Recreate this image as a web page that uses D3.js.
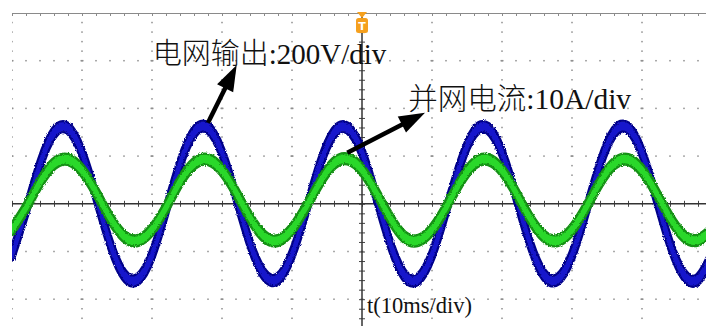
<!DOCTYPE html>
<html>
<head>
<meta charset="utf-8">
<script src="https://cdn.jsdelivr.net/npm/d3@7/dist/d3.min.js"></script>
<style>
  body { margin: 0; background: #fff; }
  text { font-family: "Liberation Serif", "Noto Sans CJK SC", serif; }
</style>
</head>
<body>
<div id="chart"></div>
<script>
// scope screen: 10 div across, 8 div tall (bottom part cropped off)
// samples every 0.2 div, values
const sampleStep = 0.2;

const gridVoltage = [
  -1.07, -0.15, 0.83, 1.49, 1.58, 1.07, 0.15, -0.83, -1.49, -1.58,
  -1.07, -0.14, 0.84, 1.50, 1.59, 1.07, 0.15, -0.83, -1.48, -1.57,
  -1.06, -0.15, 0.83, 1.49, 1.58, 1.08, 0.16, -0.82, -1.49, -1.58,
  -1.07, -0.15, 0.82, 1.49, 1.58, 1.07, 0.15, -0.83, -1.49, -1.58,
  -1.08, -0.16, 0.83, 1.50, 1.59, 1.07, 0.14, -0.84, -1.49, -1.58,
  -1.07
];

const gridCurrent = [
  -0.54, -0.08, 0.45, 0.84, 0.93, 0.70, 0.24, -0.29, -0.68, -0.77,
  -0.54, -0.08, 0.46, 0.84, 0.93, 0.70, 0.24, -0.29, -0.68, -0.77,
  -0.53, -0.07, 0.45, 0.85, 0.94, 0.71, 0.24, -0.29, -0.69, -0.77,
  -0.54, -0.08, 0.45, 0.84, 0.93, 0.70, 0.23, -0.30, -0.68, -0.77,
  -0.54, -0.08, 0.45, 0.84, 0.93, 0.70, 0.24, -0.29, -0.68, -0.76,
  -0.54
];

// annotation anchors, in divisions
const labels = [
  { text: "电网输出:200V/div", x: 2.01, y: 2.94, size: 29 },
  { text: "并网电流:10A/div", x: 5.66, y: 1.99, size: 29.5 },
  { text: "t(10ms/div)", x: 5.07, y: -2.29, size: 22.5 }
];
const arrows = [
  { from: [2.80, 1.70], to: [3.21, 2.91] },
  { from: [4.79, 1.07], to: [5.90, 1.91] }
];

const W = 706, H = 326;
const x = d3.scaleLinear().domain([0, 10]).range([12, 712]);
const y = d3.scaleLinear().domain([-4, 4]).range([394.6, 13]);

const svg = d3.select("#chart").append("svg")
  .attr("width", W)
  .attr("height", H);

const defs = svg.append("defs");
defs.append("clipPath").attr("id", "screen")
  .append("rect")
  .attr("x", x(0)).attr("y", y(4))
  .attr("width", W - x(0)).attr("height", H - y(4));

const rough = defs.append("filter").attr("id", "rough")
  .attr("x", "-2%").attr("y", "-10%").attr("width", "104%").attr("height", "120%");
rough.append("feTurbulence")
  .attr("type", "fractalNoise").attr("baseFrequency", 0.9)
  .attr("numOctaves", 1).attr("seed", 3).attr("result", "n");
rough.append("feDisplacementMap")
  .attr("in", "SourceGraphic").attr("in2", "n")
  .attr("scale", 3).attr("xChannelSelector", "R").attr("yChannelSelector", "G");

const screen = svg.append("g").attr("clip-path", "url(#screen)");

// dotted graticule
const minorX = d3.range(0, 50.5).map(i => i * 0.2);
const minorY = d3.range(-20, 20.5).map(i => i * 0.2);
const majorX = d3.range(0, 11).filter(d => d !== 5);
const majorY = d3.range(-4, 4).filter(d => d !== 0);
const onMajor = d => Number.isInteger(Math.round(d * 1000) / 1000);

majorX.forEach(gx => {
  screen.append("g").selectAll("rect")
    .data(minorY)
    .join("rect")
    .attr("x", x(gx) - 0.75)
    .attr("y", d => y(d) - 0.75)
    .attr("width", 1.5)
    .attr("height", 1.5)
    .attr("fill", "#8f8f8f");
});
majorY.forEach(gy => {
  screen.append("g").selectAll("rect")
    .data(minorX)
    .join("rect")
    .attr("x", d => x(d) - (onMajor(d) ? 1.5 : 0.75))
    .attr("y", y(gy) - 0.75)
    .attr("width", d => onMajor(d) ? 3 : 1.5)
    .attr("height", 1.5)
    .attr("fill", "#8f8f8f");
});

// top border with small ticks
screen.append("g")
  .attr("transform", `translate(0,${y(4)})`)
  .call(d3.axisBottom(x).tickValues(minorX).tickSize(3).tickFormat(""))
  .call(g => g.selectAll("line,path").attr("stroke", "#8a8a8a"));

// centre axes
screen.append("g")
  .attr("transform", `translate(0,${y(0) - 3})`)
  .call(d3.axisBottom(x).tickValues(minorX).tickSize(6).tickFormat(""))
  .call(g => g.select(".domain").remove())
  .call(g => g.selectAll("line").attr("stroke", "#444"));
screen.append("line")
  .attr("x1", x(0)).attr("x2", W)
  .attr("y1", y(0)).attr("y2", y(0))
  .attr("stroke", "#333").attr("stroke-width", 1.5);

screen.append("g")
  .attr("transform", `translate(${x(5) + 3},0)`)
  .call(d3.axisLeft(y).tickValues(minorY).tickSize(6).tickFormat(""))
  .call(g => g.select(".domain").remove())
  .call(g => g.selectAll("line").attr("stroke", "#444"));
screen.append("line")
  .attr("x1", x(5)).attr("x2", x(5))
  .attr("y1", y(4)).attr("y2", H)
  .attr("stroke", "#333").attr("stroke-width", 1.5);

// traces
const half = 0.065;
const band = d3.area()
  .x((d, i) => x(i * sampleStep))
  .y0(d => y(d - half))
  .y1(d => y(d + half))
  .curve(d3.curveNatural);

function trace(values, dark, bright) {
  const g = screen.append("g").attr("filter", "url(#rough)");
  g.append("path")
    .datum(values)
    .attr("d", band)
    .attr("fill", dark)
    .attr("stroke", dark)
    .attr("stroke-width", 7)
    .attr("stroke-linejoin", "round");
  g.append("path")
    .datum(values)
    .attr("d", band)
    .attr("fill", bright)
    .attr("stroke", bright)
    .attr("stroke-width", 2.5)
    .attr("stroke-linejoin", "round");
}
trace(gridVoltage, "#06068a", "#1818cc");
trace(gridCurrent, "#129012", "#2ad82a");

// trigger marker
const tx = x(5), ty = y(4);
svg.append("path")
  .attr("d", `M${tx - 5},${ty - 1}L${tx + 5},${ty - 1}L${tx},${ty + 5}Z`)
  .attr("fill", "#f5a01e");
svg.append("rect")
  .attr("x", tx - 6).attr("y", ty + 5)
  .attr("width", 12).attr("height", 15)
  .attr("rx", 2.5)
  .attr("fill", "#f5a01e");
svg.append("text")
  .attr("x", tx).attr("y", ty + 17)
  .attr("text-anchor", "middle")
  .attr("fill", "#fff")
  .style("font-family", "DejaVu Sans, sans-serif")
  .style("font-weight", "bold")
  .style("font-size", "11px")
  .text("T");

// arrows
arrows.forEach(a => {
  const x1 = x(a.from[0]), y1 = y(a.from[1]);
  const x2 = x(a.to[0]), y2 = y(a.to[1]);
  const ang = Math.atan2(y2 - y1, x2 - x1);
  const len = 26, hw = 9;
  const bx = x2 - len * Math.cos(ang), by = y2 - len * Math.sin(ang);
  svg.append("line")
    .attr("x1", x1).attr("y1", y1)
    .attr("x2", bx + 2 * Math.cos(ang)).attr("y2", by + 2 * Math.sin(ang))
    .attr("stroke", "#000").attr("stroke-width", 4.5);
  svg.append("path")
    .attr("d", `M${x2},${y2}` +
      `L${bx + hw * Math.sin(ang)},${by - hw * Math.cos(ang)}` +
      `L${bx - hw * Math.sin(ang)},${by + hw * Math.cos(ang)}Z`)
    .attr("fill", "#000");
});

// labels
svg.selectAll("text.label")
  .data(labels)
  .join("text")
  .attr("class", "label")
  .attr("x", d => x(d.x))
  .attr("y", d => y(d.y))
  .attr("fill", "#111")
  .style("font-size", d => d.size + "px")
  .style("font-weight", 300)
  .text(d => d.text);
</script>
</body>
</html>
